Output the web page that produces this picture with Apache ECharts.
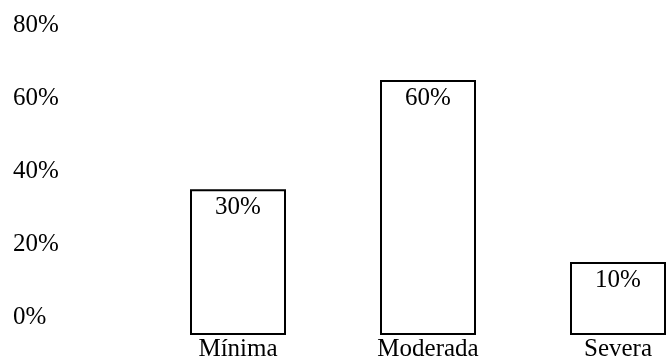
<!DOCTYPE html>
<html>
<head>
<meta charset="utf-8">
<style>
  html, body { margin: 0; padding: 0; background: #fff; }
  #chart { width: 670px; height: 364px; }
</style>
<script src="https://cdn.jsdelivr.net/npm/echarts@6/dist/echarts.min.js"></script>
</head>
<body>
<div id="chart"></div>
<script>
// niveles y porcentajes
var categories = ['Mínima', 'Moderada', 'Severa'];
var values = [30, 60, 10];
var tickValues = [0, 20, 40, 60, 80];

var font = 'Liberation Serif, Times New Roman, serif';
var fontSize = 25;
var myChart = echarts.init(document.getElementById('chart'));

var option = {
  animation: false,
  backgroundColor: '#fff',
  grid: [
    // barras (la ultima queda cortada por el borde derecho)
    {left: 143, width: 570, top: 7, bottom: 29, outerBoundsMode: 'none'},
    // solo etiquetas del eje
    {left: 60, right: 20, top: 25, bottom: 47, outerBoundsMode: 'none'}
  ],
  xAxis: [
    {
      type: 'category',
      gridIndex: 0,
      data: categories,
      axisLine: {show: false},
      axisTick: {show: false},
      axisLabel: {
        color: '#000',
        fontFamily: font,
        fontSize: fontSize,
        margin: 2
      }
    },
    {type: 'category', gridIndex: 1, show: false, data: []}
  ],
  yAxis: [
    {
      type: 'value',
      gridIndex: 0,
      min: -10,
      max: 80,
      startValue: -10,
      show: false,
      splitLine: {show: false}
    },
    {
      type: 'value',
      gridIndex: 1,
      min: tickValues[0],
      max: tickValues[tickValues.length - 1],
      interval: 20,
      axisLine: {show: false},
      axisTick: {show: false},
      splitLine: {show: false},
      axisLabel: {
        color: '#000',
        fontFamily: font,
        fontSize: fontSize,
        align: 'left',
        margin: 47,
        formatter: '{value}%'
      }
    }
  ],
  series: [
    {
      type: 'bar',
      xAxisIndex: 0,
      yAxisIndex: 0,
      data: values,
      barWidth: 96,
      itemStyle: {
        color: '#fff',
        borderColor: '#000',
        borderWidth: 2
      },
      label: {
        show: true,
        position: 'insideTop',
        distance: 6,
        color: '#000',
        fontFamily: font,
        fontSize: fontSize,
        formatter: '{c}%'
      }
    }
  ]
};
myChart.setOption(option);
</script>
</body>
</html>
